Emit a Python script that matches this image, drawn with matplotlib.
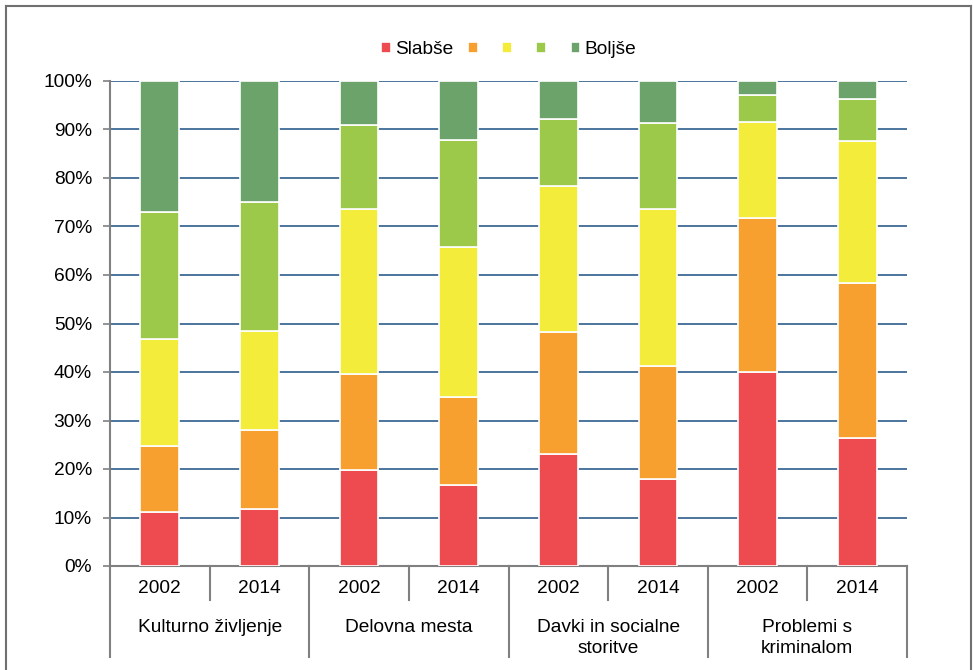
import numpy as np
import matplotlib
matplotlib.use("Agg")
import matplotlib.pyplot as plt
from matplotlib.lines import Line2D

plt.rcParams["font.family"] = ["Liberation Sans", "DejaVu Sans"]

# Data (shares in %)
groups = ["Kulturno življenje", "Delovna mesta", "Davki in socialne\nstoritve", "Problemi s\nkriminalom"]
years = ["2002", "2014"]
series_names = ["Slabše", " ", " ", " ", "Boljše"]
colors = ["#EE4B50", "#F7A030", "#F4EC3A", "#9CC94A", "#6BA36B"]

# cumulative tops per bar
tops_red = [11.1, 11.8, 19.8, 16.7, 23.1, 17.9, 40.0, 26.4]
tops_orange = [24.7, 28.0, 39.6, 34.8, 48.2, 41.2, 71.8, 58.4]
tops_yellow = [46.8, 48.5, 73.6, 65.8, 78.4, 73.6, 91.5, 87.6]
tops_lgreen = [73.0, 75.1, 90.9, 87.8, 92.2, 91.3, 97.1, 96.3]
tops_dgreen = [100] * 8

cum = np.array([tops_red, tops_orange, tops_yellow, tops_lgreen, tops_dgreen])
vals = np.diff(np.vstack([np.zeros(8), cum]), axis=0)

fig = plt.figure(figsize=(9.73, 6.70), dpi=100)
ax = fig.add_axes([110 / 973, 1 - 566 / 670, 797 / 973, 485 / 670])

x = np.arange(8)
bottom = np.zeros(8)
for i in range(5):
    ax.bar(x, vals[i], 0.39, bottom=bottom, color=colors[i], edgecolor="white",
           linewidth=1.2, label=series_names[i], zorder=3)
    bottom += vals[i]

fs = 13.8
ax.set_xlim(-0.5, 7.5)
ax.set_ylim(0, 100)
ax.set_yticks(np.arange(0, 101, 10))
ax.set_yticklabels([f"{v}%" for v in range(0, 101, 10)], fontsize=fs)
ax.yaxis.grid(True, color="#2E5C8A", linewidth=1.2, zorder=0)
ax.set_axisbelow(True)
for s in ["top", "right"]:
    ax.spines[s].set_visible(False)
ax.spines["left"].set_color("#808080")
ax.spines["bottom"].set_color("#808080")
ax.spines["left"].set_linewidth(1.5)
ax.spines["bottom"].set_linewidth(1.5)
ax.tick_params(axis="y", color="#808080", length=5, width=1.2, pad=8)
ax.set_xticks([])

# year labels and group labels below axis
for i in range(8):
    ax.text(x[i], -2.9, years[i % 2], ha="center", va="top", fontsize=fs,
            clip_on=False)
for g in range(4):
    ax.text(2 * g + 0.5, -10.9, groups[g], ha="center", va="top", fontsize=fs,
            linespacing=1.35, clip_on=False)

# separators
for k in range(9):
    xp = k - 0.5
    ybot = -18.8 if k % 2 == 0 else -7.0
    ax.add_line(Line2D([xp, xp], [0, ybot], color="#808080", linewidth=1.5, clip_on=False))

ax.legend(loc="lower center", bbox_to_anchor=(0.5, 1.012), ncol=5, frameon=False,
          fontsize=fs, handlelength=0.5, handleheight=0.5, handletextpad=0.2,
          columnspacing=0.8)

# outer frame (open at bottom)
fc = "#707070"
fig.add_artist(Line2D([6 / 973, 6 / 973], [0, 1 - 6 / 670], color=fc, linewidth=1.5))
fig.add_artist(Line2D([6 / 973, 971 / 973], [1 - 6 / 670, 1 - 6 / 670], color=fc, linewidth=1.5))
fig.add_artist(Line2D([971 / 973, 971 / 973], [0, 1 - 6 / 670], color=fc, linewidth=1.5))

fig.savefig("out.png", dpi=100)
